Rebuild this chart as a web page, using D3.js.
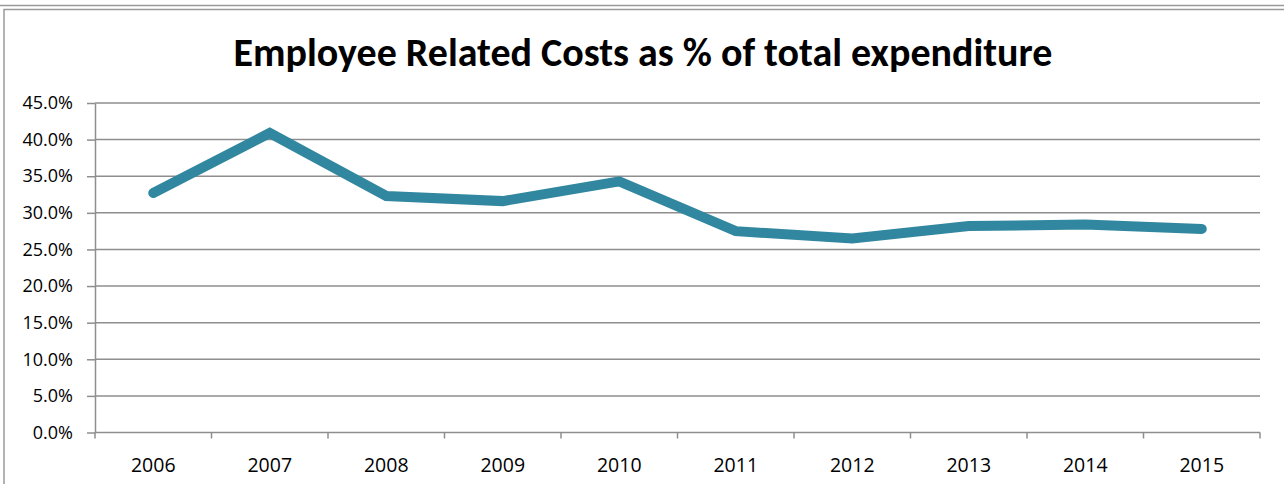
<!DOCTYPE html>
<html>
<head>
<meta charset="utf-8">
<script src="https://cdn.jsdelivr.net/npm/d3@7"></script>
<style>
  html, body { margin: 0; padding: 0; background: #fff; }
  svg { display: block; }
</style>
</head>
<body>
<svg id="chart" width="1284" height="484"></svg>
<script>
// Employee related costs as a share of total expenditure, by year
const years = ["2006", "2007", "2008", "2009", "2010", "2011", "2012", "2013", "2014", "2015"];
const shares = [0.327, 0.409, 0.323, 0.316, 0.343, 0.275, 0.265, 0.282, 0.284, 0.278];
const yTicks = [0, 0.05, 0.10, 0.15, 0.20, 0.25, 0.30, 0.35, 0.40, 0.45];
const titleText = "Employee Related Costs as % of total expenditure";

const svg = d3.select("#chart");
const W = 1284, H = 484;
const m = { left: 95, right: 24, top: 103, bottom: 51 };
const titleFont = "Carlito, Calibri, Lato, 'Open Sans', sans-serif";
const labelFont = "'Open Sans', 'Liberation Sans', sans-serif";

// outer frames
svg.append("line").attr("x1", 0).attr("x2", W).attr("y1", 5.5).attr("y2", 5.5)
  .attr("stroke", "#9a9a9a").attr("stroke-width", 1.5);
svg.append("rect").attr("x", 4).attr("y", 9.5).attr("width", W + 20).attr("height", H)
  .attr("fill", "none").attr("stroke", "#9a9a9a").attr("stroke-width", 1.5);

const x = d3.scaleBand().domain(years).range([m.left, W - m.right]).paddingInner(0).paddingOuter(0);
const y = d3.scaleLinear().domain([0, 0.45]).range([H - m.bottom - 0.5, m.top]);

// title
const title = svg.append("text")
  .attr("x", 643).attr("y", 66)
  .attr("text-anchor", "middle")
  .attr("font-family", titleFont).attr("font-weight", "bold")
  .attr("font-size", 31).attr("fill", "#000")
  .text(titleText);
const tw = title.node().getComputedTextLength();
if (tw > 0) title.attr("font-size", 31 * 819 / tw);

// gridlines
svg.append("g").selectAll("line").data(yTicks.slice(1)).join("line")
  .attr("x1", m.left).attr("x2", W - m.right)
  .attr("y1", d => y(d)).attr("y2", d => y(d))
  .attr("stroke", "#8e8e8e").attr("stroke-width", 1.5);

// y axis
const yAxis = svg.append("g").attr("transform", `translate(${m.left},0)`)
  .call(d3.axisLeft(y).tickValues(yTicks).tickFormat(d3.format(".1%")).tickSize(8).tickSizeOuter(0));
yAxis.attr("font-family", labelFont).attr("font-size", 18);
yAxis.select(".domain").attr("stroke", "#8e8e8e").attr("stroke-width", 1.5);
yAxis.selectAll(".tick line").attr("stroke", "#8e8e8e").attr("stroke-width", 1.5);
yAxis.selectAll(".tick text").attr("fill", "#000").attr("x", -22);

// x axis with ticks between categories
const xAxisG = svg.append("g").attr("transform", `translate(0,${y(0)})`);
xAxisG.append("line").attr("x1", m.left).attr("x2", W - m.right)
  .attr("stroke", "#8e8e8e").attr("stroke-width", 1.5);
const bounds = years.map(d => x(d)).concat([x(years[years.length - 1]) + x.bandwidth()]);
xAxisG.selectAll("line.tk").data(bounds).join("line").attr("class", "tk")
  .attr("x1", d => d).attr("x2", d => d).attr("y1", 0).attr("y2", 6)
  .attr("stroke", "#8e8e8e").attr("stroke-width", 1.5);
xAxisG.selectAll("text").data(years).join("text")
  .attr("x", d => x(d) + x.bandwidth() / 2).attr("y", 39)
  .attr("text-anchor", "middle")
  .attr("font-family", labelFont).attr("font-size", 19.5).attr("fill", "#000")
  .text(d => d);

// series line
const line = d3.line()
  .x((d, i) => x(years[i]) + x.bandwidth() / 2)
  .y(d => y(d));
svg.append("path").datum(shares)
  .attr("d", line)
  .attr("fill", "none")
  .attr("stroke", "#31879f")
  .attr("stroke-width", 10)
  .attr("stroke-linejoin", "miter")
  .attr("stroke-linecap", "round");
</script>
</body>
</html>
